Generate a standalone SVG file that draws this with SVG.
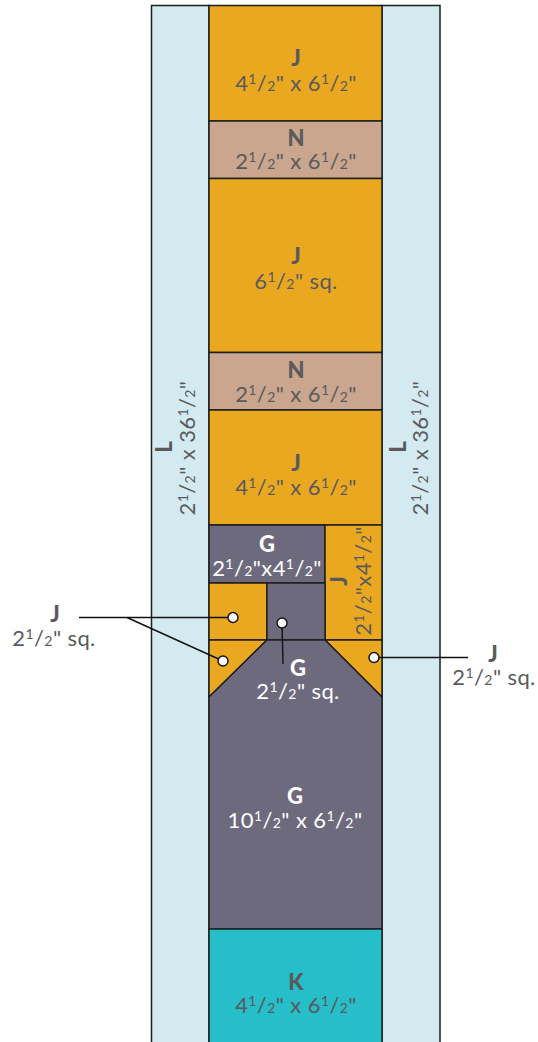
<svg xmlns="http://www.w3.org/2000/svg" width="538" height="1042" viewBox="0 0 538 1042">
<style>
.pc{stroke:#1e1e1e;stroke-width:1.5;stroke-linejoin:miter}
.lb{fill:#d3ebf0}.or{fill:#e9a820}.tn{fill:#c9a68d}.gp{fill:#6e6a7e}.tl{fill:#26bec8}
text{font-family:Lato,"Noto Sans","Liberation Sans",sans-serif;text-anchor:middle;fill:#5a5a5c}
.t{font-size:22px;letter-spacing:0.4px}
.b{font-size:22px;font-weight:900}
.w{fill:#ffffff}
.s{font-size:14px}
.ln{stroke:#111;stroke-width:1.4;fill:none}
.dot{fill:#fff;stroke:#111;stroke-width:1.4}
</style>
<g id="L-left"><rect class="pc lb" x="151.5" y="5.5" width="57.5" height="1045"/>
<text class="b" transform="translate(172,447) rotate(-90)">L</text>
<text class="t" transform="translate(195,448) rotate(-90)">2<tspan class="s" dy="-7">1</tspan><tspan dy="7">/</tspan><tspan class="s">2</tspan>" x 36<tspan class="s" dy="-7">1</tspan><tspan dy="7">/</tspan><tspan class="s">2</tspan>"</text></g>
<g id="L-right"><rect class="pc lb" x="382" y="5.5" width="58" height="1045"/>
<text class="b" transform="translate(406,447) rotate(-90)">L</text>
<text class="t" transform="translate(428,448) rotate(-90)">2<tspan class="s" dy="-7">1</tspan><tspan dy="7">/</tspan><tspan class="s">2</tspan>" x 36<tspan class="s" dy="-7">1</tspan><tspan dy="7">/</tspan><tspan class="s">2</tspan>"</text></g>
<g id="J1"><rect class="pc or" x="209" y="5.5" width="173" height="115.5"/>
<text class="b" x="296" y="66">J</text>
<text class="t" x="296" y="91">4<tspan class="s" dy="-7">1</tspan><tspan dy="7">/</tspan><tspan class="s">2</tspan>" x 6<tspan class="s" dy="-7">1</tspan><tspan dy="7">/</tspan><tspan class="s">2</tspan>"</text></g>
<g id="N1"><rect class="pc tn" x="209" y="121" width="173" height="57.5"/>
<text class="b" x="296" y="146">N</text>
<text class="t" x="296" y="169">2<tspan class="s" dy="-7">1</tspan><tspan dy="7">/</tspan><tspan class="s">2</tspan>" x 6<tspan class="s" dy="-7">1</tspan><tspan dy="7">/</tspan><tspan class="s">2</tspan>"</text></g>
<g id="J2"><rect class="pc or" x="209" y="178.5" width="173" height="174"/>
<text class="b" x="296" y="264">J</text>
<text class="t" x="296" y="289">6<tspan class="s" dy="-7">1</tspan><tspan dy="7">/</tspan><tspan class="s">2</tspan>" sq.</text></g>
<g id="N2"><rect class="pc tn" x="209" y="352.5" width="173" height="57.5"/>
<text class="b" x="296" y="378">N</text>
<text class="t" x="296" y="402">2<tspan class="s" dy="-7">1</tspan><tspan dy="7">/</tspan><tspan class="s">2</tspan>" x 6<tspan class="s" dy="-7">1</tspan><tspan dy="7">/</tspan><tspan class="s">2</tspan>"</text></g>
<g id="J3"><rect class="pc or" x="209" y="410" width="173" height="115"/>
<text class="b" x="296" y="471">J</text>
<text class="t" x="296" y="495">4<tspan class="s" dy="-7">1</tspan><tspan dy="7">/</tspan><tspan class="s">2</tspan>" x 6<tspan class="s" dy="-7">1</tspan><tspan dy="7">/</tspan><tspan class="s">2</tspan>"</text></g>
<g id="G1"><rect class="pc gp" x="209" y="525" width="116" height="58"/>
<text class="b w" x="267" y="552">G</text>
<text class="t w" x="267" y="576">2<tspan class="s" dy="-7">1</tspan><tspan dy="7">/</tspan><tspan class="s">2</tspan>"x4<tspan class="s" dy="-7">1</tspan><tspan dy="7">/</tspan><tspan class="s">2</tspan>"</text></g>
<g id="J4"><rect class="pc or" x="325" y="525" width="57" height="115"/>
<text class="b" transform="translate(347,581) rotate(-90)">J</text>
<text class="t" transform="translate(371,581) rotate(-90)">2<tspan class="s" dy="-7">1</tspan><tspan dy="7">/</tspan><tspan class="s">2</tspan>"x4<tspan class="s" dy="-7">1</tspan><tspan dy="7">/</tspan><tspan class="s">2</tspan>"</text></g>
<g id="J5"><rect class="pc or" x="209" y="583" width="58" height="57"/></g>
<g id="G2"><rect class="pc gp" x="267" y="583" width="58" height="57"/></g>
<g id="J6"><polygon class="pc or" points="209,640 267,640 209,697"/></g>
<g id="J7"><polygon class="pc or" points="325,640 382,640 382,697"/></g>
<g id="G3"><polygon class="pc gp" points="267,640 325,640 382,697 382,929 209,929 209,697"/>
<text class="b w" x="298" y="676">G</text>
<text class="t w" x="298" y="699">2<tspan class="s" dy="-7">1</tspan><tspan dy="7">/</tspan><tspan class="s">2</tspan>" sq.</text>
<text class="b w" x="295" y="804">G</text>
<text class="t w" x="295" y="828">10<tspan class="s" dy="-7">1</tspan><tspan dy="7">/</tspan><tspan class="s">2</tspan>" x 6<tspan class="s" dy="-7">1</tspan><tspan dy="7">/</tspan><tspan class="s">2</tspan>"</text></g>
<g id="K"><rect class="pc tl" x="209" y="929" width="173" height="120"/>
<text class="b" x="296" y="990">K</text>
<text class="t" x="296" y="1013">4<tspan class="s" dy="-7">1</tspan><tspan dy="7">/</tspan><tspan class="s">2</tspan>" x 6<tspan class="s" dy="-7">1</tspan><tspan dy="7">/</tspan><tspan class="s">2</tspan>"</text></g>
<g id="connectors">
<line class="ln" x1="79" y1="617.5" x2="233" y2="617.5"/>
<line class="ln" x1="127" y1="617.5" x2="223" y2="661"/>
<line class="ln" x1="282" y1="623" x2="283" y2="664"/>
<line class="ln" x1="374" y1="657.5" x2="468" y2="657.5"/>
<circle class="dot" cx="233" cy="617.5" r="5"/>
<circle class="dot" cx="223" cy="661" r="5"/>
<circle class="dot" cx="282" cy="623" r="5"/>
<circle class="dot" cx="374" cy="657.5" r="5"/>
</g>
<g id="label-left">
<text class="b" x="55" y="622">J</text>
<text class="t" x="54" y="646">2<tspan class="s" dy="-7">1</tspan><tspan dy="7">/</tspan><tspan class="s">2</tspan>" sq.</text></g>
<g id="label-right">
<text class="b" x="493" y="662">J</text>
<text class="t" x="494" y="685">2<tspan class="s" dy="-7">1</tspan><tspan dy="7">/</tspan><tspan class="s">2</tspan>" sq.</text></g>
</svg>
